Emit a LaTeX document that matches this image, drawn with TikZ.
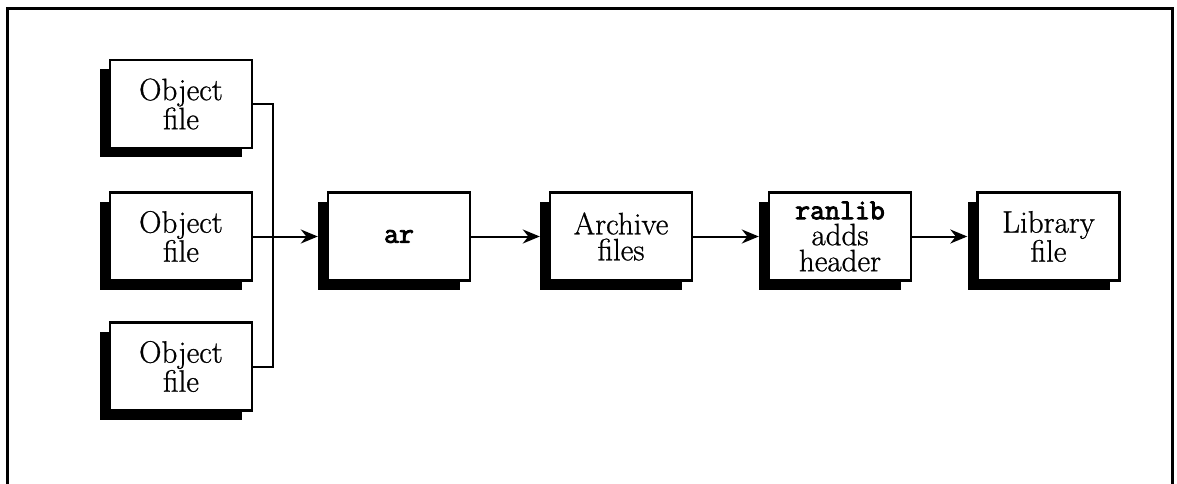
\documentclass[tikz,border=0pt]{standalone}
\usepackage{fontspec}
\newfontfamily\labelfont{Latin Modern Roman}[FakeBold=0.8]
\newfontfamily\codefont{Latin Modern Mono}[FakeBold=3]
\usetikzlibrary{arrows.meta}

% A stage: a black drop shadow set down and to the left, with the white box on top
\newcommand\stage[4]{%
  \node[shadowbox] (#1s) at (#2-10,#3+9) {};
  \node[stagebox] (#1) at (#2,#3) {#4};}

\begin{document}
\begin{tikzpicture}[x=1pt,y=-1pt,
  stagebox/.style={draw=black, line width=2.5pt, fill=white,
    minimum width=142pt, minimum height=88pt, inner sep=0pt,
    align=center, font=\labelfont\fontsize{31}{26}\selectfont},
  shadowbox/.style={fill=black, minimum width=142pt, minimum height=88pt,
    inner sep=0pt},
  flow/.style={line width=2pt},
  arrow/.style={flow, -{Stealth[length=17pt,width=14pt]}}]

\useasboundingbox (0,0) rectangle (1177,484);

% open frame round the diagram
\draw[line width=3pt] (7.5,484) -- (7.5,8.5) -- (1172,8.5) -- (1172,484);

\stage{oa}{181}{104}{Object\\file}
\stage{ob}{181}{236.5}{Object\\file}
\stage{oc}{181}{366.5}{Object\\file}
\stage{ar}{399}{236.5}{{\codefont\fontsize{29}{26}\selectfont ar}}
\stage{arch}{621}{236.5}{Archive\\files}
\stage{ran}{840}{236.5}{{\codefont\fontsize{29}{26}\selectfont ranlib}\\adds\\header}
\stage{lib}{1048.5}{236.5}{Library\\file}

% object files gathered onto one bus
\coordinate (bus) at (273,0);
\draw[flow] (oa.east) -| (bus |- oc.east) -- (oc.east);
\draw[arrow] (ob.east) -- (ob.east -| ars.west);

\draw[arrow] (ar.east) -- (ar.east -| archs.west);
\draw[arrow] (arch.east) -- (arch.east -| rans.west);
\draw[arrow] (ran.east) -- (ran.east -| libs.west);
\end{tikzpicture}
\end{document}
